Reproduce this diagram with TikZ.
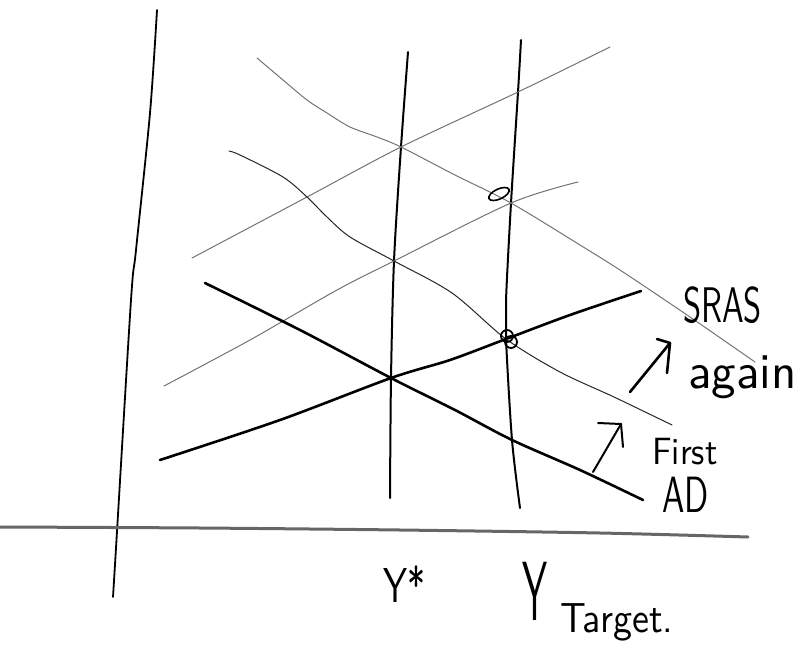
\documentclass[tikz,border=0pt]{standalone}
\usepackage{graphicx}
\begin{document}
\begin{tikzpicture}[x=1pt,y=-1pt,
  axisline/.style={line width=1.8pt, line cap=round, black},
  baseline/.style={line width=3pt, line cap=round, black!60},
  thinline/.style={line width=1pt, line cap=round, black!85},
  faintline/.style={line width=1pt, line cap=round, black!55},
  boldline/.style={line width=2.6pt, line cap=round, black},
  vline/.style={line width=2pt, line cap=round, black},
  arrowstroke/.style={line width=2.6pt, line cap=round, line join=round, black},
  hand/.style={inner sep=0pt, anchor=base west, font=\sffamily\fontsize{10}{10}\selectfont, black}]
\useasboundingbox (0,0) rectangle (810,647);

% key points
\coordinate (A1) at (401,147);
\coordinate (A2) at (394,261);
\coordinate (E0) at (391,378);
\coordinate (B0) at (518,92);
\coordinate (B1) at (511,203);
\coordinate (E1) at (506,339);
\coordinate (C1) at (512,440);

% axes
\draw[axisline] plot[smooth] coordinates {(157,10) (150,113) (136,250) (131,300) (116,548) (113,597)};
\draw[baseline] plot[smooth] coordinates {(0,527) (200,528) (400,530) (600,533) (748,537)};

% vertical lines Y* and Y target
\draw[vline] plot[smooth] coordinates {(408,52) (A1) (A2) (E0) (390,498)};
\draw[vline] plot[smooth] coordinates {(521,40) (B0) (B1) (506,300) (E1) (C1) (520,508)};

% up-sloping lines
\draw[faintline] plot[smooth] coordinates {(192,258) (307,197) (A1) (B0) (610,47)};
\draw[faintline] plot[smooth] coordinates {(164,386) (250,340) (337,290) (A2) (B1) (578,182)};
\draw[boldline] plot[smooth] coordinates {(160,460) (280,420) (E0) (450,360) (E1) (570,315) (641,291)};

% down-sloping lines
\draw[faintline] plot[smooth] coordinates {(257,58) (283,80) (307,100) (327,113) (350,127) (377,137) (A1) (455,175) (B1) (580,245) (623,272) (690,317) (755,362)};
\draw[thinline] plot[smooth] coordinates {(229,151) (240,155) (283,177) (307,197) (327,217) (350,237) (A2) (452,293) (E1) (560,372) (614,397) (672,425)};
\draw[boldline] plot[smooth] coordinates {(205,283) (300,330) (E0) (455,410) (C1) (580,470) (643,500)};

% marks
\draw[line width=1.8pt] (507,336) circle[radius=6];
\draw[line width=1.8pt] (511,342) circle[radius=6];
\draw[line width=1.6pt, rotate around={25:(499,194)}] (499,194) ellipse[x radius=11, y radius=5];

% arrows
\coordinate (ag0) at (630,392);
\coordinate (ag1) at (670,343);
\draw[arrowstroke] (ag0) -- (ag1);
\draw[arrowstroke] (657,339) -- (ag1) -- (667,373);
\coordinate (fi0) at (593,472);
\coordinate (fi1) at (621,424);
\draw[arrowstroke, line width=2pt] (fi0) -- (fi1);
\draw[arrowstroke, line width=2pt] (598,423) -- (fi1) -- (623,447);

% labels
\node[hand] (sras) at (683,322) {\scalebox{3.25}[5]{SRAS}};
\node[hand] (again) at (688,388) {\scalebox{4.9}[5]{again}};
\node[hand] (first) at (652,464) {\scalebox{3.45}[3.8]{First}};
\node[hand] (ad) at (662,512) {\scalebox{3.35}[5.1]{AD}};
\node[hand] (ystar) at (383,602) {\scalebox{3.6}[4.9]{Y*}};
\node[hand] (ytarget) at (522,620) {\scalebox{3.75}[8.4]{Y}};
\node[hand] (target) at (560,632) {\scalebox{3.8}[4.2]{Target.}};
\end{tikzpicture}
\end{document}
